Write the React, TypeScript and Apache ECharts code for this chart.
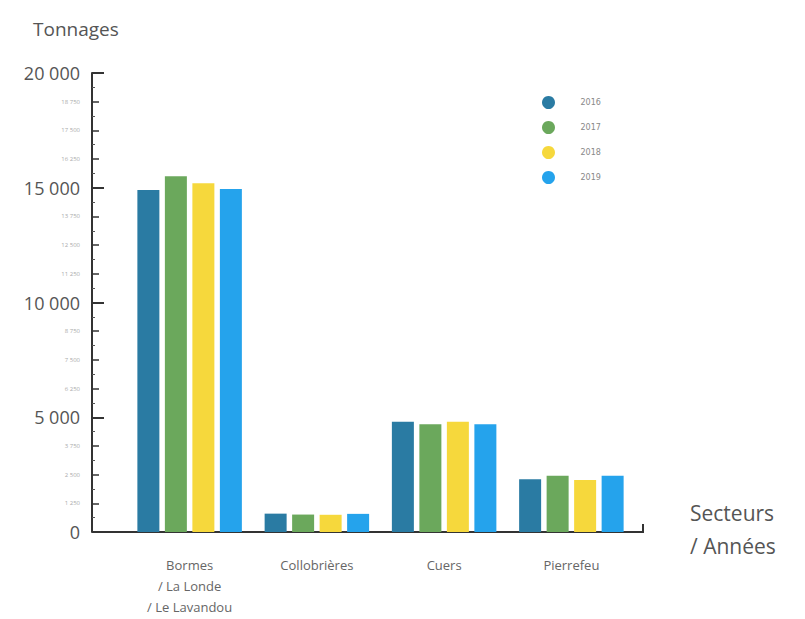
import React, { useEffect, useRef } from "react";
import * as echarts from "echarts";

const categories = ["Bormes\n/ La Londe\n/ Le Lavandou", "Collobrières", "Cuers", "Pierrefeu"];
const years = ["2016", "2017", "2018", "2019"];
const v2016 = [14900, 800, 4800, 2300];
const v2017 = [15500, 760, 4700, 2450];
const v2018 = [15200, 750, 4800, 2270];
const v2019 = [14950, 790, 4700, 2450];
const colors = ["#2A7BA3", "#6BA85C", "#F6D83C", "#25A3EC"];

const fmt = (v: number) => String(v).replace(/\B(?=(\d{3})+(?!\d))/g, " ");

export default function App() {
  const ref = useRef<HTMLDivElement>(null);
  useEffect(() => {
    if (!ref.current) return;
    const chart = echarts.init(ref.current, null, { renderer: "svg" });
    const gridLeft = 126;
    const gridRight = 170;
    const gridTop = 73;
    const gridBottom = 87;
    const H = 619;
    const axisY = H - gridBottom;
    const values = [v2016, v2017, v2018, v2019];
    chart.setOption({
      animation: false,
      textStyle: { fontFamily: "Open Sans" },
      grid: { left: gridLeft, right: gridRight, top: gridTop, bottom: gridBottom },
      legend: {
        orient: "vertical",
        left: 537,
        top: 91,
        itemWidth: 14,
        itemHeight: 13,
        itemGap: 12,
        icon: "circle",
        data: years,
        textStyle: { fontSize: 8, color: "#888", padding: [0, 0, 0, 20], fontFamily: "DejaVu Sans" },
      },
      xAxis: {
        type: "category",
        data: categories,
        axisLine: { show: false },
        axisTick: { show: false },
        axisLabel: {
          color: "#666",
          fontSize: 13,
          lineHeight: 21,
          margin: 22,
          fontFamily: "Open Sans",
        },
      },
      yAxis: [
        {
          type: "value",
          min: 0,
          max: 20000,
          interval: 1250,
          offset: gridLeft - 92,
          splitLine: { show: false },
          axisLine: { show: true, lineStyle: { color: "#333", width: 2 } },
          axisTick: { show: true, inside: true, length: 7, lineStyle: { color: "#333", width: 1.5 } },
          minorTick: { show: true, splitNumber: 2, length: 3, lineStyle: { color: "#555" } },
          axisLabel: {
            margin: 12,
            formatter: (v: number) => (v % 5000 === 0 ? "{big|" + fmt(v) + "}" : "{small|" + fmt(v) + "}"),
            rich: {
              big: { fontSize: 18, color: "#555", fontFamily: "Open Sans" },
              small: { fontSize: 6, color: "#aaa", fontFamily: "Open Sans" },
            },
          },
        },
        {
          type: "value",
          min: 0,
          max: 20000,
          interval: 5000,
          position: "left",
          offset: gridLeft - 92,
          splitLine: { show: false },
          axisLine: { show: false },
          axisLabel: { show: false },
          axisTick: { show: true, inside: true, length: 12, lineStyle: { color: "#333", width: 2 } },
        },
      ],
      series: years.map((y, i) => ({
        name: y,
        type: "bar",
        yAxisIndex: 0,
        data: values[i],
        barWidth: 22,
        barGap: "25%",
        itemStyle: { color: colors[i] },
      })),
      graphic: [
        {
          type: "line",
          shape: { x1: 92, y1: axisY, x2: 643, y2: axisY },
          style: { stroke: "#333", lineWidth: 2 },
        },
        {
          type: "line",
          shape: { x1: 643, y1: axisY + 1, x2: 643, y2: axisY - 8 },
          style: { stroke: "#333", lineWidth: 2 },
        },
        {
          type: "text",
          left: 33,
          top: 19,
          style: { text: "Tonnages", fontSize: 19, fill: "#555", fontFamily: "Open Sans" },
        },
        {
          type: "text",
          left: 690,
          top: 496,
          style: {
            text: "Secteurs\n/ Années",
            fontSize: 21,
            lineHeight: 33,
            fill: "#555",
            fontFamily: "Open Sans",
          },
        },
      ],
    });
    return () => chart.dispose();
  }, []);
  return <div ref={ref} style={{ width: 805, height: 619, position: "absolute", left: 0, top: 0, background: "#fff" }} />;
}
